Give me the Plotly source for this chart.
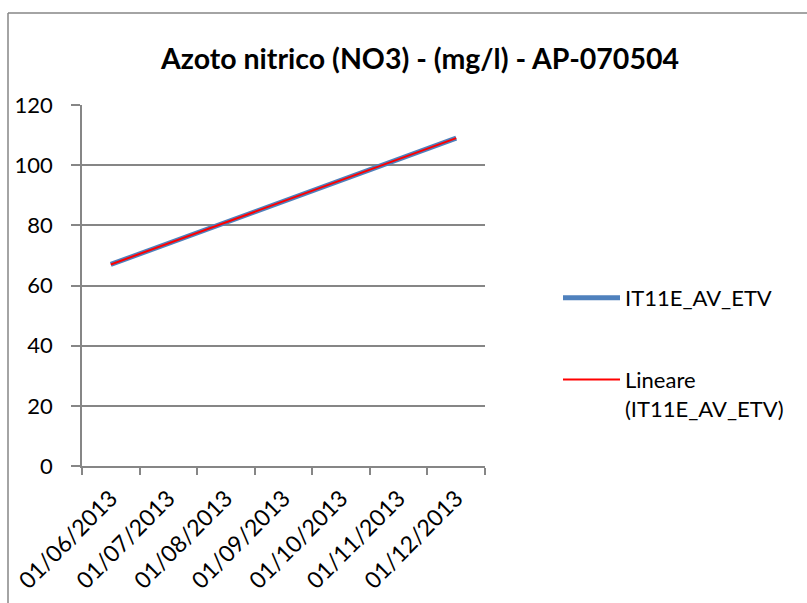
import numpy as np
import plotly.graph_objects as go

months = ["01/06/2013", "01/07/2013", "01/08/2013", "01/09/2013",
          "01/10/2013", "01/11/2013", "01/12/2013"]
series_x = ["01/06/2013", "01/12/2013"]
series_y = [67, 109]
series_name = "IT11E_AV_ETV"
trend_name = "Lineare<br>(IT11E_AV_ETV)"
title_text = "Azoto nitrico (NO3) - (mg/l) - AP-070504"
y_ticks = [0, 20, 40, 60, 80, 100, 120]

# linear trendline computed from the data (as Excel does)
idx = np.array([months.index(m) for m in series_x], dtype=float)
coef = np.polyfit(idx, np.array(series_y, dtype=float), 1)
trend_y = list(np.polyval(coef, idx))

FONT = "Lato"
GRID = "#868686"

fig = go.Figure()
fig.add_trace(go.Scatter(x=series_x, y=series_y, mode="lines", name=series_name,
                         line=dict(color="#4F81BD", width=5), legendgroup="a"))
fig.add_trace(go.Scatter(x=series_x, y=trend_y, mode="lines", name=trend_name,
                         line=dict(color="#FF0000", width=2), legendgroup="b"))

fig.update_layout(
    width=807, height=603,
    margin=dict(l=82, r=322, t=105, b=137, autoexpand=False),
    paper_bgcolor="white", plot_bgcolor="white",
    font=dict(family=FONT, size=22, color="#000000"),
    title=dict(text="<b>" + title_text + "</b>", x=420 / 807, xref="container",
               y=1 - 59 / 603, yref="container", xanchor="center", yanchor="middle",
               font=dict(family=FONT, size=28.5, color="#000000")),
    showlegend=True,
    legend=dict(x=(558 - 82) / 403, xanchor="left", y=(466 - 277) / 361, yanchor="top",
                font=dict(family=FONT, size=22, color="#000000"),
                itemwidth=57, tracegroupgap=50, valign="top",
                bgcolor="rgba(0,0,0,0)"),
    xaxis=dict(type="category", categoryorder="array", categoryarray=months,
               range=[-0.5, 6.5], tickson="boundaries", ticks="outside", ticklen=7,
               tickcolor=GRID, tickwidth=1.5, showline=True, linecolor=GRID, linewidth=1.5,
               showgrid=False, tickangle=-45, tickfont=dict(family=FONT, size=23),
               ticklabelstandoff=8, fixedrange=True),
    yaxis=dict(range=[0, 120], tickvals=y_ticks, ticks="outside", ticklen=9,
               tickcolor=GRID, tickwidth=1.5, showline=True, linecolor=GRID, linewidth=1.5,
               showgrid=True, gridcolor=GRID, gridwidth=1.5, zeroline=False,
               tickfont=dict(family=FONT, size=22), ticklabelstandoff=14, fixedrange=True),
)

# outer chart-area border (left and top edges visible)
fig.add_shape(type="line", xref="paper", yref="paper",
              x0=(8 - 82) / 403, x1=(8 - 82) / 403, y0=(466 - 603) / 361 - 0.05, y1=(466 - 13) / 361,
              line=dict(color=GRID, width=1.5))
fig.add_shape(type="line", xref="paper", yref="paper",
              x0=(8 - 82) / 403, x1=(810 - 82) / 403, y0=(466 - 13) / 361, y1=(466 - 13) / 361,
              line=dict(color=GRID, width=1.5))

fig.write_html("out.html", config={"displayModeBar": False},
               post_script="document.body.style.margin='0';document.body.style.overflow='hidden';")
